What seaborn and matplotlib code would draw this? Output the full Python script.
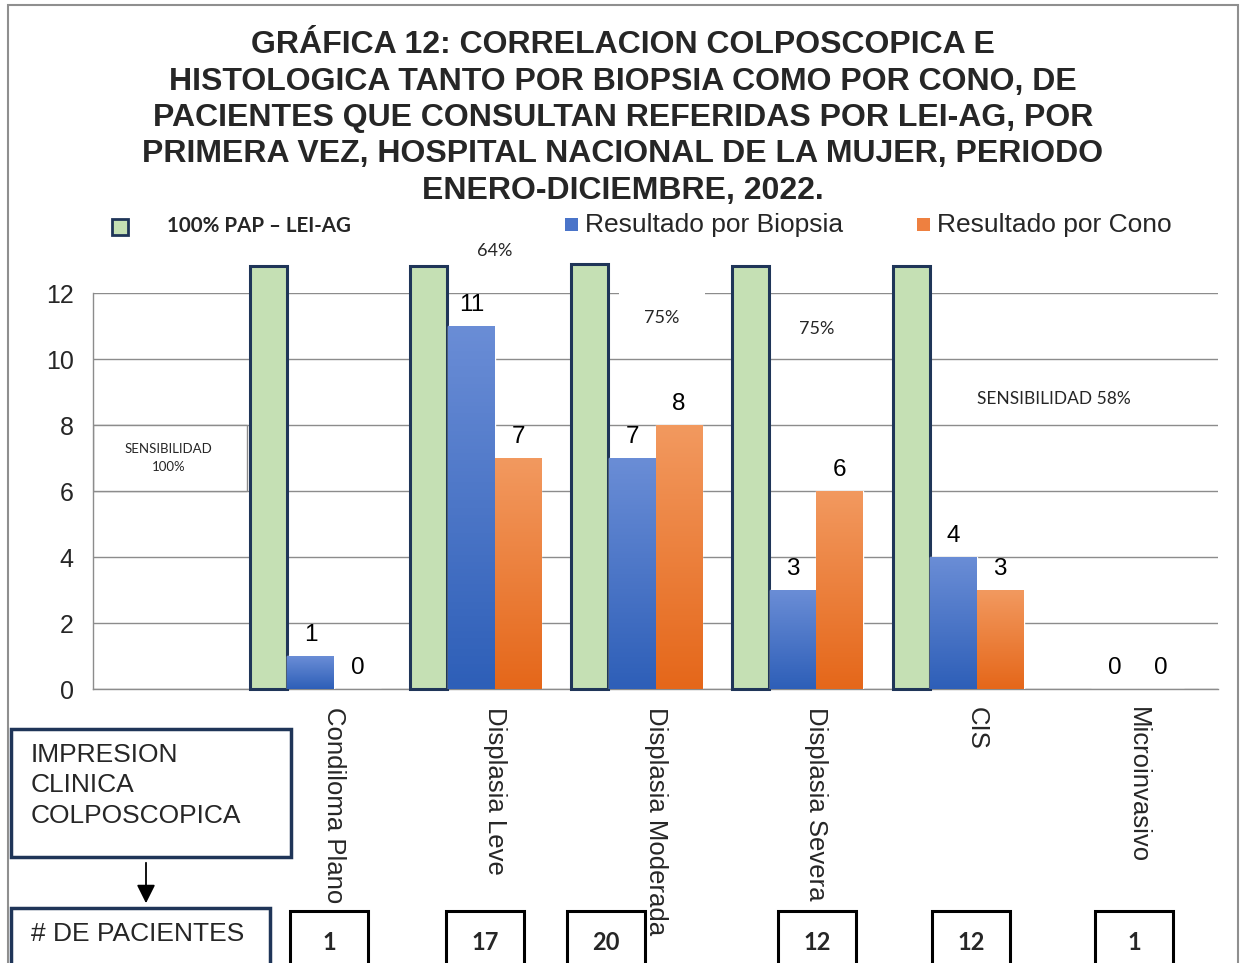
import numpy as np
import pandas as pd
import matplotlib
matplotlib.use("Agg")
import matplotlib.pyplot as plt
import seaborn as sns
from matplotlib.patches import Rectangle, FancyArrowPatch
from matplotlib.colors import LinearSegmentedColormap

# data
categories = ["", "Condiloma Plano", "Displasia Leve", "Displasia Moderada",
              "Displasia Severa", "CIS", "Microinvasivo"]
biopsia = [np.nan, 1, 11, 7, 3, 4, 0]
cono = [np.nan, 0, 7, 8, 6, 3, 0]
pap_100 = [np.nan, 12.83, 12.83, 12.87, 12.83, 12.83, np.nan]
pacientes = ["1", "17", "20", "12", "12", "1"]
pacientes_x = [329, 485, 606, 817, 971, 1134]  # centres of the count boxes (px)

series_names = ["Resultado por Biopsia", "Resultado por Cono"]
top_colors = ["#6A8DD6", "#F2995F"]
bottom_colors = ["#2E5FB8", "#E5671A"]
green = "#C5E0B4"
navy = "#1F3558"
grid_gray = "#8C8C8C"

df = pd.DataFrame({
    "cat": categories * 2,
    "serie": [series_names[0]] * 7 + [series_names[1]] * 7,
    "valor": biopsia + cono,
})

W, H = 1243, 963
fig = plt.figure(figsize=(W / 100, H / 100), dpi=100)
sns.set_style("white")
plt.rcParams["font.family"] = ["Liberation Sans", "DejaVu Sans"]

ax = fig.add_axes([93 / W, 1 - 689 / H, (1218 - 93) / W, (689 - 293) / H])

# green 100% PAP bars, drawn left of each group
x = np.arange(len(categories))
ax.bar(x - 0.41, pap_100, width=0.23, color=green, edgecolor=navy,
       linewidth=2.2, zorder=3, clip_on=False)

sns.barplot(data=df, x="cat", y="valor", hue="serie", order=categories,
            hue_order=series_names, palette=top_colors, width=0.58,
            saturation=1, ax=ax, legend=False, zorder=3, errorbar=None)

# vertical gradient on every seaborn bar (first container is the green one)
for cont, c_top, c_bot in zip(ax.containers[1:], top_colors, bottom_colors):
    cmap = LinearSegmentedColormap.from_list("g", [c_bot, c_top])
    for p in cont.patches:
        h = p.get_height()
        if not np.isfinite(h) or h <= 0:
            continue
        x0, w = p.get_x(), p.get_width()
        im = ax.imshow(np.linspace(0, 1, 100).reshape(-1, 1), cmap=cmap,
                       origin="lower", aspect="auto",
                       extent=[x0, x0 + w, 0, h], zorder=3.5)
        im.set_clip_path(p)
        p.set_facecolor("none")
    labels = ["" if not np.isfinite(v) else f"{v:g}" for v in cont.datavalues]
    ax.bar_label(cont, labels=labels, padding=7, fontsize=17.5, color="black")

ax.set_xlim(-0.5, 6.5)
ax.set_ylim(0, 12)
ax.set_yticks(np.arange(0, 13, 2))
ax.yaxis.grid(True, color=grid_gray, linewidth=1)
ax.set_axisbelow(True)
ax.set_xlabel("")
ax.set_ylabel("")
for s in ["top", "right"]:
    ax.spines[s].set_visible(False)
for s in ["left", "bottom"]:
    ax.spines[s].set_color(grid_gray)
    ax.spines[s].set_linewidth(1)

ax.set_xticks(x)
ax.set_xticklabels(categories, rotation=270, fontsize=18.5, va="top", ha="center")
ax.set_xticks(np.arange(-0.5, 7, 1), minor=True)
ax.tick_params(axis="x", which="major", length=0, pad=13)
ax.tick_params(axis="x", which="minor", length=8, color=grid_gray)
ax.tick_params(axis="y", length=8, color=grid_gray, labelsize=18, pad=6)

# annotations inside the plot
calibri = ["Lato", "DejaVu Sans"]
ax.text(2.0, 13.27, "64%", fontsize=13, family=calibri, ha="center", va="center",
        clip_on=False)
ax.text(3.04, 11.25, "75%", fontsize=13, family=calibri, ha="center", va="center",
        bbox=dict(boxstyle="square,pad=1.4", fc="white", ec="none"), zorder=4)
ax.text(4.0, 10.9, "75%", fontsize=13, family=calibri, ha="center", va="center")
ax.text(5.48, 8.8, "SENSIBILIDAD 58%", fontsize=12.5, family=calibri, ha="center",
        va="center")
ax.add_patch(Rectangle((-0.5, 6), 0.96, 2, fc="white", ec=grid_gray, lw=1, zorder=2))
ax.text(-0.03, 7.0, "SENSIBILIDAD\n100%", fontsize=9.5, family=calibri, ha="center",
        va="center", linespacing=1.6, zorder=4)

# title
fig.text(623 / W, 1 - 118 / H,
         "GRÁFICA 12: CORRELACION COLPOSCOPICA E\n"
         "HISTOLOGICA TANTO POR BIOPSIA COMO POR CONO, DE\n"
         "PACIENTES QUE CONSULTAN REFERIDAS POR LEI-AG, POR\n"
         "PRIMERA VEZ, HOSPITAL NACIONAL DE LA MUJER, PERIODO\n"
         "ENERO-DICIEMBRE, 2022.",
         ha="center", va="center", fontsize=23, fontweight="bold", linespacing=1.28)

# legend drawn by hand
def fig_rect(x0, y0, x1, y1, **kw):
    fig.add_artist(Rectangle((x0 / W, 1 - y1 / H), (x1 - x0) / W, (y1 - y0) / H,
                             transform=fig.transFigure, **kw))

fig_rect(112, 219, 128, 235, fc=green, ec=navy, lw=2)
fig.text(167 / W, 1 - 226 / H, "100% PAP – LEI-AG", fontsize=14.8, fontweight="bold",
         family=calibri, va="center")
fig_rect(565, 218, 578, 231, fc="#4A74C9", ec="none")
fig.text(585 / W, 1 - 225 / H, series_names[0], fontsize=19, va="center")
fig_rect(917, 218, 930, 231, fc="#EE8040", ec="none")
fig.text(937 / W, 1 - 225 / H, series_names[1], fontsize=19, va="center")

# boxes under the chart
fig_rect(11, 729, 291, 857, fc="white", ec=navy, lw=2.5)
fig.text(31 / W, 1 - 743 / H, "IMPRESION\nCLINICA\nCOLPOSCOPICA", fontsize=19,
         va="top", linespacing=1.33)
fig.add_artist(FancyArrowPatch((146 / W, 1 - 860 / H), (146 / W, 1 - 906 / H),
                               transform=fig.transFigure, arrowstyle="-|>",
                               mutation_scale=28, color="black", lw=1.3))
fig_rect(11, 908, 270, 990, fc="white", ec=navy, lw=2.5)
fig.text(31 / W, 1 - 934 / H, "# DE PACIENTES", fontsize=19, va="center")

for cx, n in zip(pacientes_x, pacientes):
    fig_rect(cx - 39, 911, cx + 39, 990, fc="none", ec="black", lw=2.2)
    fig.text(cx / W, 1 - 942 / H, n, fontsize=17, fontweight="bold", family=calibri,
             ha="center", va="center")

# outer chart frame
fig_rect(8, 5, 1238, 1000, fc="none", ec="#8F8F8F", lw=1.5)

fig.savefig("out.png", dpi=100)
